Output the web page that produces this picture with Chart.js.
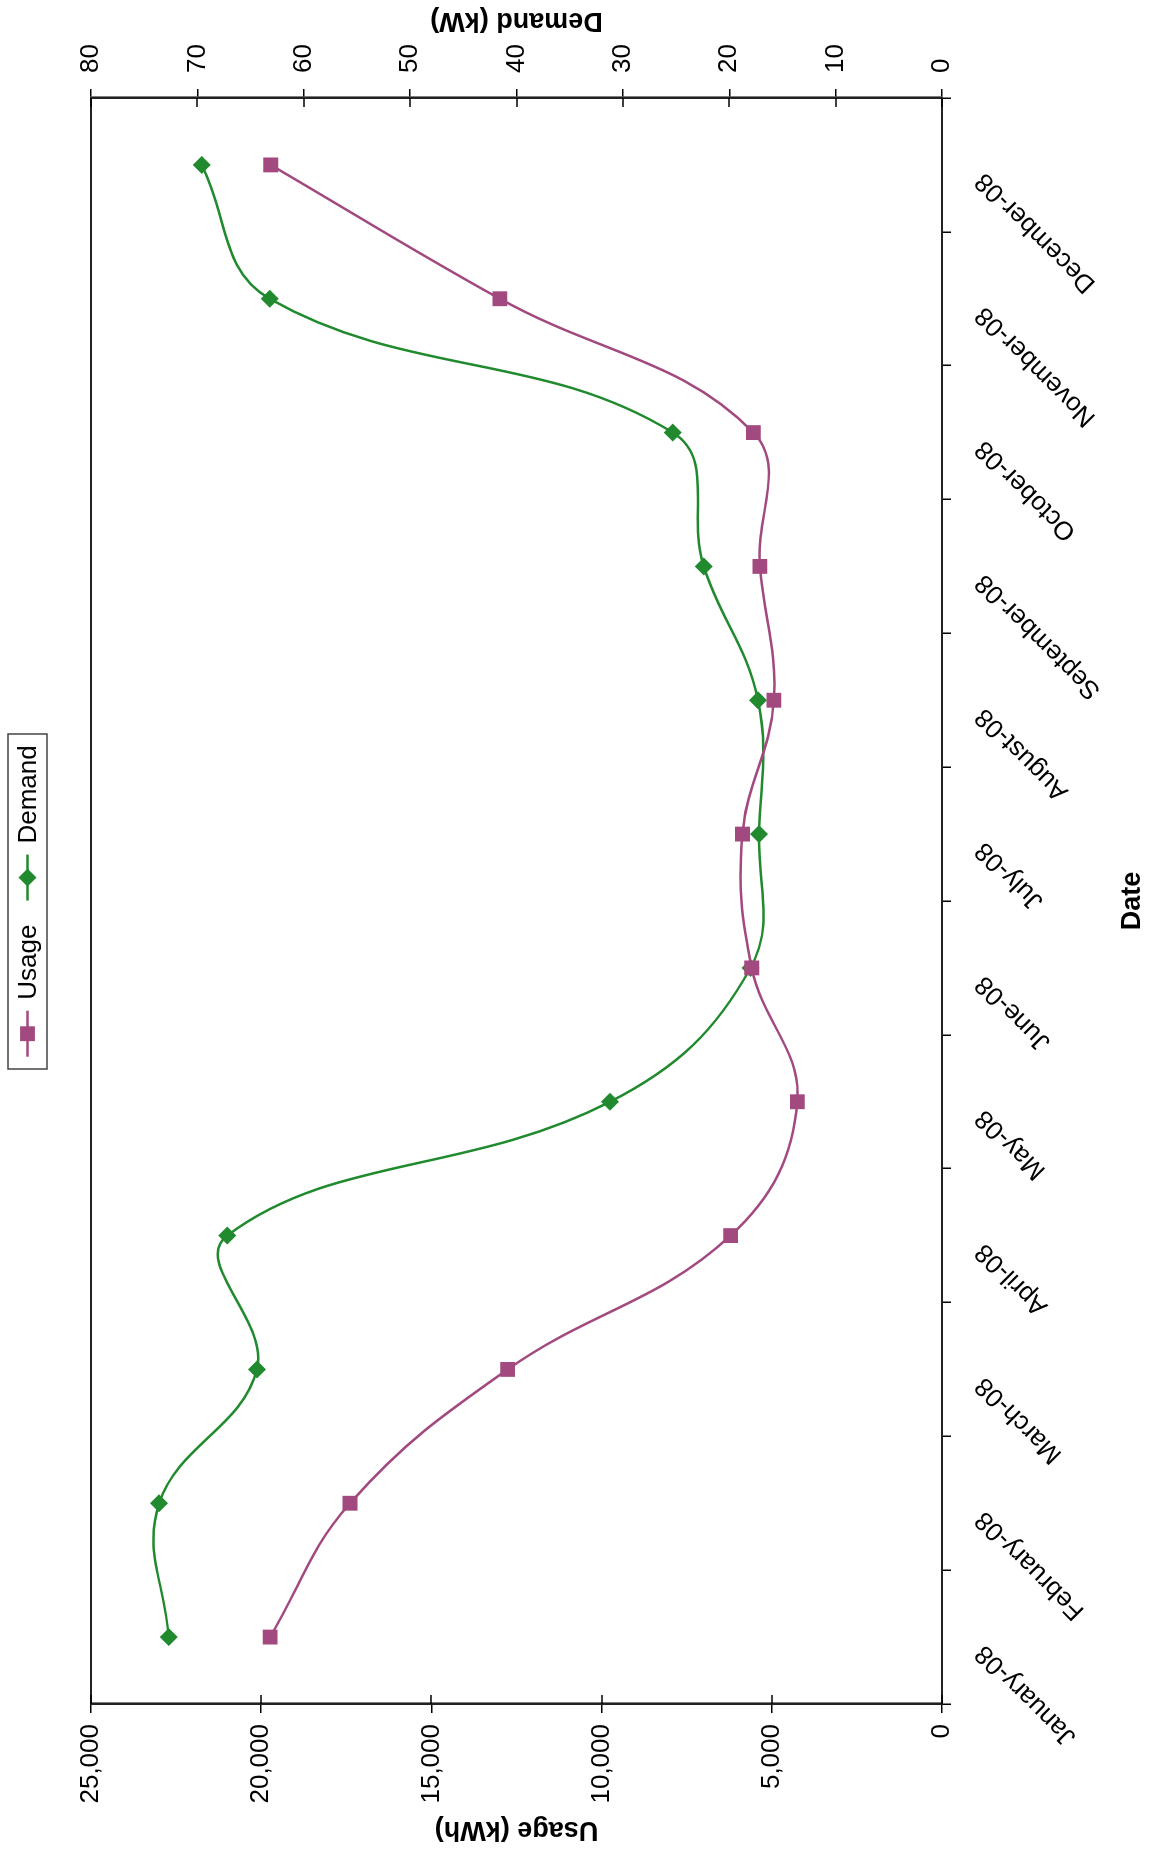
<!DOCTYPE html>
<html><head><meta charset="utf-8">
<script src="https://cdn.jsdelivr.net/npm/chart.js@4.4.1/dist/chart.umd.min.js"></script>
<style>
html,body{margin:0;padding:0;background:#fff;overflow:hidden;width:1154px;height:1854px;}
#wrap{position:absolute;left:0;top:0;width:1854px;height:1154px;transform-origin:0 0;transform:translate(0px,1854px) rotate(-90deg);}
canvas{display:block;}
</style></head><body>
<div id="wrap"><canvas id="c" width="1854" height="1154"></canvas></div>
<script>
const months = ['January-08','February-08','March-08','April-08','May-08','June-08','July-08','August-08','September-08','October-08','November-08','December-08'];
const usage = [19740, 17390, 12760, 6210, 4250, 5590, 5860, 4940, 5350, 5540, 12990, 19720];
const demand = [72.7, 73.6, 64.4, 67.2, 31.2, 18.0, 17.2, 17.3, 22.4, 25.3, 63.2, 69.6];
const usageTicks = [0, 5000, 10000, 15000, 20000, 25000];
const demandTicks = [0, 10, 20, 30, 40, 50, 60, 70, 80];
const seriesNames = ['Usage', 'Demand'];
const titles = {x: 'Date', usage: 'Usage (kWh)', demand: 'Demand (kW)'};

const FONT = '"Liberation Sans", Arial, sans-serif';
const PURPLE = '#a2497f';
const GREEN = '#218a2f';

const extras = {
  id: 'extras',
  afterDraw(chart) {
    const {ctx, chartArea: a, scales} = chart;
    ctx.save();
    ctx.strokeStyle = '#222'; ctx.lineWidth = 2;
    ctx.strokeRect(a.left, a.top, a.right - a.left, a.bottom - a.top);
    ctx.strokeStyle = '#000'; ctx.lineWidth = 1.5;
    scales.y.ticks.forEach(t => { const p = Math.round(scales.y.getPixelForValue(t.value)); ctx.beginPath(); ctx.moveTo(a.left, p); ctx.lineTo(a.left + 9, p); ctx.stroke(); });
    scales.y1.ticks.forEach(t => { const p = Math.round(scales.y1.getPixelForValue(t.value)); ctx.beginPath(); ctx.moveTo(a.right - 9, p); ctx.lineTo(a.right, p); ctx.stroke(); });
    ctx.save();
    ctx.translate(1834, (a.top + a.bottom) / 2);
    ctx.rotate(-Math.PI / 2);
    ctx.font = 'bold 27px ' + FONT; ctx.fillStyle = '#000';
    ctx.textAlign = 'center'; ctx.textBaseline = 'middle';
    ctx.fillText(titles.demand, 0, 0);
    ctx.restore();
    ctx.font = '26px ' + FONT;
    const lineLen = 46, gapT = 11, gapI = 24, padX = 12;
    const items = chart.data.datasets.map(ds => ({text: ds.label, color: ds.borderColor, style: ds.pointStyle, r: ds.pointRadius}));
    let total = padX;
    items.forEach((it, i) => { it.w = ctx.measureText(it.text).width; total += lineLen + gapT + it.w + (i < items.length - 1 ? gapI : 0); });
    total += padX;
    const cx = (a.left + a.right) / 2;
    let x = cx - total / 2;
    const top = 8, h = 39, cy = top + h / 2;
    ctx.strokeStyle = '#444'; ctx.lineWidth = 1.5;
    ctx.strokeRect(Math.round(x), top, Math.round(total), h);
    x += padX;
    items.forEach(it => {
      ctx.strokeStyle = it.color; ctx.lineWidth = 2.5;
      ctx.beginPath(); ctx.moveTo(x, cy); ctx.lineTo(x + lineLen, cy); ctx.stroke();
      const mx = x + lineLen / 2;
      ctx.fillStyle = it.color;
      ctx.beginPath();
      if (it.style === 'rect') { const s = it.r * Math.SQRT1_2; ctx.rect(mx - s, cy - s, 2 * s, 2 * s); }
      else { ctx.moveTo(mx, cy - it.r); ctx.lineTo(mx + it.r, cy); ctx.lineTo(mx, cy + it.r); ctx.lineTo(mx - it.r, cy); ctx.closePath(); }
      ctx.fill();
      x += lineLen + gapT;
      ctx.fillStyle = '#000'; ctx.textAlign = 'left'; ctx.textBaseline = 'middle';
      ctx.fillText(it.text, x, cy + 1);
      x += it.w + gapI;
    });
    ctx.restore();
  }
};

new Chart(document.getElementById('c'), {
  type: 'line',
  data: {
    labels: months,
    datasets: [
      {label: seriesNames[0], data: usage, yAxisID: 'y', borderColor: PURPLE, backgroundColor: PURPLE,
       borderWidth: 2.5, pointStyle: 'rect', pointRadius: 10.5, pointBorderWidth: 0, pointBackgroundColor: PURPLE,
       tension: 0.4, fill: false},
      {label: seriesNames[1], data: demand, yAxisID: 'y1', borderColor: GREEN, backgroundColor: GREEN,
       borderWidth: 2.5, pointStyle: 'rectRot', pointRadius: 9, pointBorderWidth: 0, pointBackgroundColor: GREEN,
       tension: 0.4, fill: false}
    ]
  },
  options: {
    responsive: false, animation: false, devicePixelRatio: 1,
    layout: {padding: {top: 91, left: 0, right: 0, bottom: 0}},
    plugins: {legend: {display: false}, tooltip: {enabled: false}},
    scales: {
      x: {
        type: 'category', offset: true,
        grid: {offset: true, drawOnChartArea: false, drawTicks: true, tickLength: 9, color: '#000', lineWidth: 1.5},
        border: {display: true, color: '#000', width: 2},
        ticks: {autoSkip: false, minRotation: 45, maxRotation: 45, color: '#000', font: {family: FONT, size: 26}, padding: 18, labelOffset: -12},
        title: {display: true, text: titles.x, color: '#000', font: {family: FONT, size: 27, weight: 'bold'}, padding: {top: 0, bottom: 5}},
        afterFit(s) { s.height = 212; }
      },
      y: {
        position: 'left', min: 0, max: 25000,
        afterBuildTicks(s) { s.ticks = usageTicks.map(v => ({value: v})); },
        grid: {drawOnChartArea: false, drawTicks: true, tickLength: 9, color: '#000', lineWidth: 1.5},
        border: {display: true, color: '#000', width: 2.5},
        ticks: {color: '#000', font: {family: FONT, size: 26}, padding: 11,
                callback: v => v.toLocaleString('en-US')},
        title: {display: true, text: titles.usage, color: '#000', font: {family: FONT, size: 27, weight: 'bold'}, padding: {top: 8, bottom: 0}},
        afterFit(s) { s.width = 150; }
      },
      y1: {
        position: 'right', min: 0, max: 80,
        afterBuildTicks(s) { s.ticks = demandTicks.map(v => ({value: v})); },
        grid: {drawOnChartArea: false, drawTicks: true, tickLength: 9, color: '#000', lineWidth: 1.5},
        border: {display: true, color: '#000', width: 2.5},
        ticks: {color: '#000', font: {family: FONT, size: 26}, padding: 16},
        title: {display: false},
        afterFit(s) { s.width = 98; }
      }
    }
  },
  plugins: [extras]
});
</script>
</body></html>
